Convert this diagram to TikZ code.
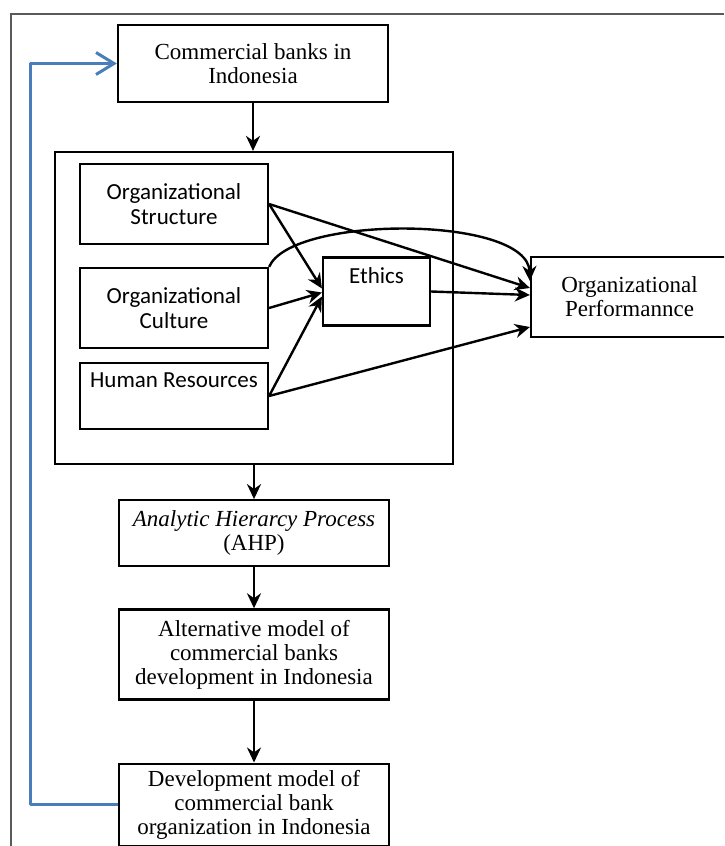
\documentclass[tikz,border=0pt]{standalone}
\usepackage{fontspec}
\setmainfont{Liberation Serif}
\newfontfamily\calibri{Carlito}
\usetikzlibrary{positioning, arrows.meta}
\definecolor{fbblue}{RGB}{74,126,187}
\definecolor{framegray}{RGB}{90,90,90}

\begin{document}
\begin{tikzpicture}[x=0.5pt, y=-0.5pt,
    block/.style={rectangle, draw, line width=1.1pt, minimum width=135pt,
                  inner sep=2pt, align=center,
                  font=\fontsize{11.5pt}{12pt}\selectfont},
    factor/.style={rectangle, draw, line width=1.1pt, minimum width=94pt,
                   inner sep=2pt, align=center,
                   font=\calibri\fontsize{11.5pt}{12.5pt}\selectfont},
    flow/.style={-{Stealth[length=7.5pt, width=7pt]}, line width=1.2pt},
    feedback/.style={-{Straight Barb[length=9pt, width=11pt]},
                     line width=1.5pt, draw=fbblue, line join=round}
]
  \useasboundingbox (0,0) rectangle (724,846);
  \clip (0,0) rectangle (724,846);

  % frame
  \draw[framegray, line width=1pt] (724,14) -- (11,14) -- (11,846);

  % Banks
  \node[block, minimum height=38.5pt] (banks) at (253,63.5) {Commercial banks in\\Indonesia};

  % Factors
  \node[rectangle, draw, line width=1.1pt, minimum width=199pt,
        minimum height=156pt] (factors) at (254,308) {};
  \node[factor, minimum height=40pt] (struct) at (174,204) {Organizational\\Structure};
  \node[factor, minimum height=40pt] (culture) at (174,308) {Organizational\\Culture};
  \node[factor, minimum height=33pt] (hr) at (174,396) {Human Resources\\ \strut};
  \node[factor, minimum width=53.5pt, minimum height=34pt] (ethics) at (376.5,291.5) {Ethics\\ \strut};
  \node[block, minimum width=98.5pt, minimum height=40pt] (perf) at (629.5,297) {Organizational\\Performannce};

  % Models
  \node[block, minimum height=33pt, below=17pt of factors] (ahp) {\textit{Analytic Hierarcy Process}\\(AHP)};
  \node[block, minimum height=45pt, below=20.5pt of ahp] (alt) {Alternative model of\\commercial banks\\development in Indonesia};
  \node[block, minimum height=41pt, below=31pt of alt] (dev) {Development model of\\commercial bank\\organization in Indonesia};

  % Arrows
  \draw[flow] (banks.south) -- (banks.south |- factors.north);
  \draw[flow] (factors) -- (ahp);
  \draw[flow] (ahp) -- (alt);
  \draw[flow] (alt) -- (dev);

  \draw[flow] (struct.east) -- ([yshift=1.5pt]ethics.west);
  \draw[flow] (struct.east) -- ([yshift=4.5pt]perf.west);
  \draw[flow] (culture.east) -- ([yshift=-0.5pt]ethics.west);
  \draw[flow] (hr.east) -- ([yshift=-2.5pt]ethics.west);
  \draw[flow] (ethics.east) -- ([yshift=1pt]perf.west);
  \draw[flow] (hr.east) -- ([yshift=-15pt]perf.west);
  \draw[flow] (culture.north east) .. controls +(22,-52) and +(-2,-66) .. ([yshift=8pt]perf.west);

  % Feedback
  \draw[feedback] (dev.west) -- ++(-87,0) |- (banks.west);
\end{tikzpicture}
\end{document}
